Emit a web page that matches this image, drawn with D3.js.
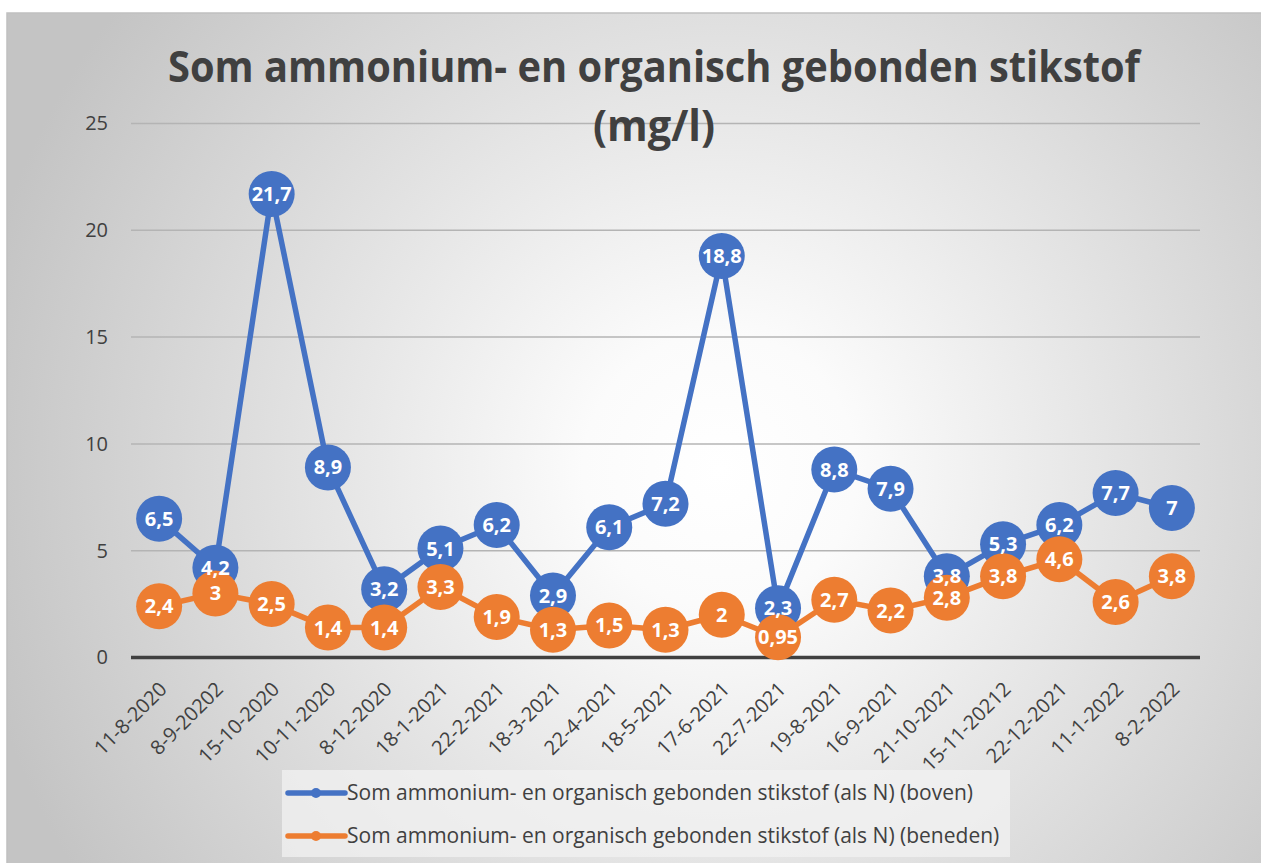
<!DOCTYPE html>
<html>
<head>
<meta charset="utf-8">
<script src="https://cdn.jsdelivr.net/npm/d3@7"></script>
<style>
  body { margin: 0; background: #ffffff; }
  svg { display: block; }
  text { font-family: "Open Sans", sans-serif; }
</style>
</head>
<body>
<div id="chart"></div>
<script>
// categories (sample dates, as written on the axis)
var dates = ["11-8-2020", "8-9-20202", "15-10-2020", "10-11-2020", "8-12-2020", "18-1-2021",
    "22-2-2021", "18-3-2021", "22-4-2021", "18-5-2021", "17-6-2021", "22-7-2021",
    "19-8-2021", "16-9-2021", "21-10-2021", "15-11-20212", "22-12-2021", "11-1-2022", "8-2-2022"];

// upstream measurement (boven)
var boven = [6.5, 4.2, 21.7, 8.9, 3.2, 5.1, 6.2, 2.9, 6.1, 7.2, 18.8, 2.3, 8.8, 7.9, 3.8, 5.3, 6.2, 7.7, 7];

// downstream measurement (beneden)
var beneden = [2.4, 3, 2.5, 1.4, 1.4, 3.3, 1.9, 1.3, 1.5, 1.3, 2, 0.95, 2.7, 2.2, 2.8, 3.8, 4.6, 2.6, 3.8];

var yTicks = [0, 5, 10, 15, 20, 25];

var seriesNames = ["Som ammonium- en organisch gebonden stikstof (als N) (boven)",
    "Som ammonium- en organisch gebonden stikstof (als N) (beneden)"];
var seriesColors = ["#4472C4", "#ED7D31"];

var width = 1261, height = 863;
var plot = { left: 131, right: 1200, top: 123.5, bottom: 657.5 };

var svg = d3.select("#chart").append("svg")
    .attr("width", width)
    .attr("height", height);

// radial grey background
var defs = svg.append("defs");
var grad = defs.append("radialGradient")
    .attr("id", "bg")
    .attr("gradientUnits", "userSpaceOnUse")
    .attr("cx", 720).attr("cy", 470).attr("r", 760);
grad.append("stop").attr("offset", 0).attr("stop-color", "#ffffff");
grad.append("stop").attr("offset", 0.18).attr("stop-color", "#fbfbfb");
grad.append("stop").attr("offset", 1).attr("stop-color", "#c4c4c4");

svg.append("rect")
    .attr("x", 7).attr("y", 13)
    .attr("width", width - 6).attr("height", height - 12)
    .attr("fill", "url(#bg)")
    .attr("stroke", "#c0c0c0")
    .attr("stroke-width", 1.5);

var x = d3.scaleBand()
    .domain(dates)
    .range([plot.left, plot.right]);

var y = d3.scaleLinear()
    .domain([0, 25])
    .range([plot.bottom, plot.top]);

// gridlines
svg.append("g")
    .selectAll("line")
    .data(yTicks.filter(d => d > 0))
    .enter()
    .append("line")
    .attr("x1", plot.left)
    .attr("x2", plot.right)
    .attr("y1", d => y(d))
    .attr("y2", d => y(d))
    .attr("stroke", "#b4b4b4")
    .attr("stroke-width", 1.5);

// y axis labels
var yAxis = d3.axisLeft(y).tickValues(yTicks).tickSize(0).tickPadding(0);
svg.append("g")
    .attr("transform", "translate(108,0)")
    .call(yAxis)
    .call(g => g.select(".domain").remove())
    .selectAll("text")
    .attr("font-size", 20)
    .attr("fill", "#404040")
    .attr("font-family", "Open Sans, sans-serif");

// x axis labels
var xAxis = d3.axisBottom(x).tickSize(0).tickPadding(0);
svg.append("g")
    .attr("transform", "translate(0," + plot.bottom + ")")
    .call(xAxis)
    .call(g => g.select(".domain").remove())
    .selectAll("text")
    .attr("font-size", 20)
    .attr("fill", "#404040")
    .attr("font-family", "Open Sans, sans-serif")
    .attr("text-anchor", "end")
    .attr("dy", 0)
    .attr("y", 0)
    .attr("transform", "translate(9,33) rotate(-45)");

// zero axis line
svg.append("line")
    .attr("x1", plot.left)
    .attr("x2", plot.right)
    .attr("y1", y(0))
    .attr("y2", y(0))
    .attr("stroke", "#404040")
    .attr("stroke-width", 3.5);

var line = d3.line()
    .x((d, i) => x(dates[i]) + x.bandwidth() / 2)
    .y(d => y(d));

var allSeries = [boven, beneden];

allSeries.forEach(function (values, s) {
    var g = svg.append("g");
    g.append("path")
        .datum(values)
        .attr("d", line)
        .attr("fill", "none")
        .attr("stroke", seriesColors[s])
        .attr("stroke-width", 5.5)
        .attr("stroke-linejoin", "round");
    g.selectAll("circle")
        .data(values)
        .enter()
        .append("circle")
        .attr("cx", (d, i) => x(dates[i]) + x.bandwidth() / 2)
        .attr("cy", d => y(d))
        .attr("r", 23)
        .attr("fill", seriesColors[s]);
});

// data labels on top of everything
allSeries.forEach(function (values, s) {
    svg.append("g")
        .selectAll("text")
        .data(values)
        .enter()
        .append("text")
        .attr("x", (d, i) => x(dates[i]) + x.bandwidth() / 2)
        .attr("y", d => y(d) + 7)
        .attr("text-anchor", "middle")
        .attr("font-size", 20)
        .attr("font-weight", "bold")
        .attr("fill", "#ffffff")
        .text(d => String(d).replace(".", ","));
});

// title
var title = svg.append("text")
    .attr("x", 654)
    .attr("y", 82)
    .attr("text-anchor", "middle")
    .attr("font-size", 43)
    .attr("font-weight", "bold")
    .attr("fill", "#404040");
title.append("tspan").attr("x", 654).attr("y", 82)
    .attr("textLength", 972).attr("lengthAdjust", "spacingAndGlyphs")
    .text("Som ammonium- en organisch gebonden stikstof");
title.append("tspan").attr("x", 654).attr("y", 141)
    .attr("textLength", 122).attr("lengthAdjust", "spacingAndGlyphs")
    .text("(mg/l)");

// legend
var legend = svg.append("g");
legend.append("rect")
    .attr("x", 282).attr("y", 770)
    .attr("width", 728).attr("height", 87)
    .attr("fill", "#f2f2f2")
    .attr("fill-opacity", 0.75);

var item = legend.selectAll("g.item")
    .data(seriesNames)
    .enter()
    .append("g")
    .attr("class", "item")
    .attr("transform", (d, i) => "translate(0," + (793 + i * 43) + ")");
item.append("line")
    .attr("x1", 288).attr("x2", 345)
    .attr("stroke", (d, i) => seriesColors[i])
    .attr("stroke-width", 5.5)
    .attr("stroke-linecap", "round");
item.append("circle")
    .attr("cx", 316).attr("r", 5)
    .attr("fill", (d, i) => seriesColors[i]);
item.append("text")
    .attr("x", 347)
    .attr("y", 7)
    .attr("font-size", 21)
    .attr("fill", "#404040")
    .text(d => d);
</script>
</body>
</html>
